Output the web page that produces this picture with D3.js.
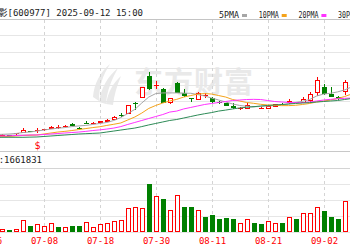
<!DOCTYPE html>
<html><head><meta charset="utf-8">
<script src="https://cdn.jsdelivr.net/npm/d3@7"></script>
<style>html,body{margin:0;padding:0;background:#fff;overflow:hidden}svg{display:block}</style>
</head><body><svg id="c" width="350" height="250"></svg>
<script>
const dates = ["06-26","06-27","06-30","07-01","07-02","07-03","07-04","07-07","07-08","07-09","07-10","07-11","07-14","07-15","07-16","07-17","07-18","07-21","07-22","07-23","07-24","07-25","07-28","07-29","07-30","07-31","08-01","08-04","08-05","08-06","08-07","08-08","08-11","08-12","08-13","08-14","08-15","08-18","08-19","08-20","08-21","08-22","08-25","08-26","08-27","08-28","08-29","09-01","09-02","09-03","09-04","09-05","09-08"];
const open  = [10.94,10.97,10.94,10.97,11.03,11.12,11.22,11.21,11.27,11.36,11.44,11.50,11.65,11.42,11.71,11.68,11.72,11.78,11.87,12.21,12.24,12.90,13.24,14.55,13.97,13.74,12.93,14.10,13.50,13.23,13.09,13.38,13.19,12.99,12.89,12.75,12.53,12.55,12.71,12.57,12.55,12.68,12.85,12.89,12.95,12.93,13.05,13.50,13.90,13.48,13.27,13.58,14.41];
const close = [10.97,10.94,11.00,10.94,11.09,11.30,11.19,11.30,11.31,11.47,11.46,11.53,11.52,11.39,11.68,11.71,11.79,11.87,12.06,12.11,12.79,12.86,13.86,13.74,14.02,12.89,13.19,13.52,13.33,13.13,13.50,13.41,12.99,12.89,12.75,12.59,12.62,12.79,12.67,12.60,12.75,12.83,12.81,13.05,12.91,13.13,13.45,14.30,13.48,13.30,13.18,14.18,15.33];
const high  = [11.00,11.00,11.03,11.00,11.12,11.38,11.24,11.41,11.33,11.50,11.55,11.55,11.72,11.45,11.79,11.73,11.82,11.91,12.12,12.33,12.81,12.99,13.88,14.79,14.26,13.80,13.21,14.20,13.74,13.24,13.58,13.52,13.25,13.03,12.93,12.89,12.65,12.89,12.73,12.64,12.77,12.86,12.88,13.13,13.00,13.25,13.56,14.47,14.06,13.90,13.33,14.30,15.52];
const low   = [10.91,10.91,10.91,10.91,11.00,11.09,11.17,11.12,11.24,11.33,11.36,11.48,11.50,11.36,11.61,11.66,11.70,11.76,11.85,12.06,12.22,12.48,13.21,13.70,13.74,12.88,12.83,13.50,13.29,12.97,13.07,13.21,12.93,12.85,12.73,12.53,12.48,12.53,12.64,12.55,12.53,12.67,12.79,12.87,12.88,12.91,12.99,13.33,13.38,13.25,13.12,13.39,14.36];
const volume = [210000,180000,170000,120000,190000,750000,370000,480000,370000,540000,290000,290000,370000,370000,650000,300000,500000,580000,710000,750000,1480000,1540000,1480000,2980000,2270000,2060000,1370000,2300000,1540000,1540000,1370000,960000,1040000,810000,850000,790000,580000,790000,580000,500000,690000,580000,580000,920000,790000,1210000,1210000,1580000,1310000,960000,810000,1940000,1580000];
const ma5  = [11.00,11.00,11.01,11.03,11.06,11.12,11.15,11.21,11.27,11.33,11.38,11.42,11.48,11.52,11.55,11.61,11.67,11.73,11.85,12.03,12.27,12.52,12.91,13.27,13.48,13.52,13.52,13.52,13.50,13.50,13.42,13.33,13.21,13.09,12.97,12.85,12.76,12.71,12.68,12.70,12.73,12.75,12.79,12.85,12.94,13.01,13.12,13.33,13.45,13.50,13.58,13.70,13.88];
const ma10 = [10.88,10.88,10.87,10.88,10.91,10.94,10.95,10.97,11.03,11.09,11.15,11.19,11.24,11.30,11.36,11.42,11.47,11.55,11.62,11.70,11.88,12.06,12.30,12.58,12.76,12.91,13.03,13.13,13.27,13.36,13.45,13.48,13.45,13.36,13.27,13.12,13.03,12.94,12.89,12.83,12.79,12.77,12.75,12.75,12.77,12.82,12.88,12.97,13.03,13.09,13.18,13.30,13.45];
const ma20 = [10.91,10.91,10.91,10.92,10.94,10.95,10.97,10.97,11.00,11.03,11.06,11.09,11.12,11.15,11.19,11.24,11.28,11.33,11.39,11.48,11.61,11.73,11.85,11.97,12.09,12.21,12.36,12.42,12.55,12.64,12.73,12.82,12.88,12.94,13.00,13.06,13.09,13.12,13.13,13.12,13.06,13.00,12.97,12.94,12.93,12.93,12.97,13.03,13.09,13.13,13.17,13.19,13.21];
const ma30 = [10.82,10.82,10.83,10.83,10.83,10.83,10.84,10.85,10.88,10.91,10.94,10.97,11.00,11.03,11.05,11.07,11.09,11.15,11.21,11.27,11.33,11.39,11.48,11.58,11.67,11.76,11.85,11.91,12.00,12.09,12.18,12.26,12.33,12.42,12.48,12.55,12.61,12.65,12.68,12.73,12.76,12.79,12.82,12.85,12.88,12.91,12.93,12.97,13.00,13.03,13.06,13.12,13.18];
const tickLabels = ["06-26","07-08","07-18","07-30","08-11","08-21","09-02"];
const priceTicks = [10,11,12,13,14,15,16,17,18];
const volTicks = [0,1000000,2000000,3000000,4000000];
const legendNames = ["5PMA","10PMA","20PMA","30PMA"];
const titleText = "中国电影[600977] 2025-09-12 15:00";
const volLabel = "成交量:1661831";
const watermark = "东方财富";
const dividendDate = "07-07";

const RED = "#ff0000", GREEN = "#008000";
const maColors = ["#a6a6a6","#f5a31a","#ff33ff","#2e8b57"];
const MONO = "'DejaVu Sans Mono','Noto Sans CJK SC',monospace";

const svg = d3.select("#c");
const x = d3.scalePoint().domain(dates).range([-12, 351.5]);
const y = d3.scaleLinear().domain([10, 18]).range([151, 19]);
const yv = d3.scaleLinear().domain([0, 4000000]).range([232, 168]);
const cx = d => Math.round(x(d));

const data = dates.map((d, i) => ({
  d, o: open[i], c: close[i], h: high[i], l: low[i], v: volume[i],
  up: close[i] >= open[i],
  vup: close[i] >= (i ? close[i - 1] : open[i])
}));

// watermark
const wm = svg.append("g").attr("fill", "#e9e9e9");
wm.append("path").attr("d", "M93,97 C94,84 100,72 110,64 C103,75 99,86 99,101 Z");
wm.append("path").attr("d", "M99,102 C101,88 108,76 118,68 C112,79 107,90 106,104 Z");
wm.append("path").attr("d", "M106,104 C108,92 113,83 121,76 C117,86 114,95 113,105 Z");
wm.append("text").attr("x", 134).attr("y", 93).attr("font-family", "'Noto Sans CJK SC'")
  .attr("font-weight", "bold").attr("font-size", 29).attr("letter-spacing", 1).text(watermark);

// horizontal grid
const grid = svg.append("g").attr("shape-rendering", "crispEdges");
grid.selectAll(".pg").data(priceTicks).join("line")
  .attr("x1", 0).attr("x2", 350)
  .attr("y1", d => Math.floor(y(d)) + 0.5).attr("y2", d => Math.floor(y(d)) + 0.5)
  .attr("stroke", d => d === 18 ? "#c4c4c4" : (d === 10 ? "#c8c8c8" : "#e6e6e6"));
grid.selectAll(".vg").data(volTicks).join("line")
  .attr("x1", 0).attr("x2", 350)
  .attr("y1", d => Math.floor(yv(d)) + 0.5).attr("y2", d => Math.floor(yv(d)) + 0.5)
  .attr("stroke", d => d === 4000000 ? "#d4d4d4" : "#e6e6e6");
// vertical dashed grid
tickLabels.forEach(t => {
  const xx = cx(t) + 0.5;
  grid.append("line").attr("x1", xx).attr("x2", xx).attr("y1", y(18) + 1).attr("y2", y(10))
    .attr("stroke", "#d4d4d4").attr("stroke-dasharray", "3,3");
  grid.append("line").attr("x1", xx).attr("x2", xx).attr("y1", yv(4000000) + 1).attr("y2", yv(0))
    .attr("stroke", "#d4d4d4").attr("stroke-dasharray", "3,3");
});

// candles
const cg = svg.append("g").attr("shape-rendering", "crispEdges");
data.forEach(k => {
  const c = cx(k.d), col = k.up ? RED : GREEN;
  cg.append("line").attr("x1", c + 0.5).attr("x2", c + 0.5)
    .attr("y1", y(k.h)).attr("y2", y(k.l)).attr("stroke", col);
  const top = y(Math.max(k.o, k.c)), bot = y(Math.min(k.o, k.c));
  const h = Math.max(1, bot - top);
  if (k.up) {
    if (h > 2) {
      cg.append("rect").attr("x", c - 1.5).attr("y", top + 0.5).attr("width", 4).attr("height", h - 1)
        .attr("fill", "#fff").attr("stroke", col);
    } else {
      cg.append("rect").attr("x", c - 2).attr("y", top).attr("width", 5).attr("height", h).attr("fill", col);
    }
  } else {
    cg.append("rect").attr("x", c - 2).attr("y", top).attr("width", 5).attr("height", h).attr("fill", col);
  }
});

// moving averages
const line = d3.line().x((v, i) => x(dates[i])).y(v => y(v));
[ma5, ma10, ma20, ma30].forEach((arr, i) => {
  svg.append("path").attr("d", line(arr)).attr("fill", "none")
    .attr("stroke", maColors[i]).attr("stroke-width", 1);
});

// volume bars
const vg = svg.append("g").attr("shape-rendering", "crispEdges");
data.forEach(k => {
  const c = cx(k.d), top = yv(k.v), h = yv(0) - top;
  if (k.vup) {
    vg.append("rect").attr("x", c - 1.5).attr("y", top + 0.5).attr("width", 4).attr("height", h - 1)
      .attr("fill", "#fff").attr("stroke", RED);
  } else {
    vg.append("rect").attr("x", c - 2).attr("y", top).attr("width", 5).attr("height", h).attr("fill", GREEN);
  }
});

// dividend marker
svg.append("text").attr("x", cx(dividendDate) + 0.5).attr("y", 149).attr("text-anchor", "middle")
  .attr("font-family", MONO).attr("font-size", 10).attr("fill", RED).text("$");

// x labels
svg.selectAll(".xl").data(tickLabels).join("text")
  .attr("x", d => cx(d) + 0.5).attr("y", 244).attr("text-anchor", "middle")
  .attr("font-family", MONO).attr("font-size", 9).attr("fill", RED).text(d => d);

// title
svg.append("text").attr("x", 143).attr("y", 16).attr("text-anchor", "end")
  .attr("font-family", MONO).attr("font-size", 9).attr("fill", "#222").text(titleText);

// volume label
svg.append("text").attr("x", 42).attr("y", 163).attr("text-anchor", "end")
  .attr("font-family", MONO).attr("font-size", 9).attr("fill", "#222").text(volLabel);

// legend
const lg = svg.append("g");
legendNames.forEach((n, i) => {
  const lx = 219 + i * 39.7;
  lg.append("text").attr("x", lx).attr("y", 18).attr("font-family", MONO).attr("font-size", 9)
    .attr("textLength", 20).attr("lengthAdjust", "spacingAndGlyphs").attr("fill", "#222").text(n);
  lg.append("rect").attr("x", lx + 23).attr("y", 14).attr("width", 5).attr("height", 3)
    .attr("fill", maColors[i]);
});
</script>
</body></html>
